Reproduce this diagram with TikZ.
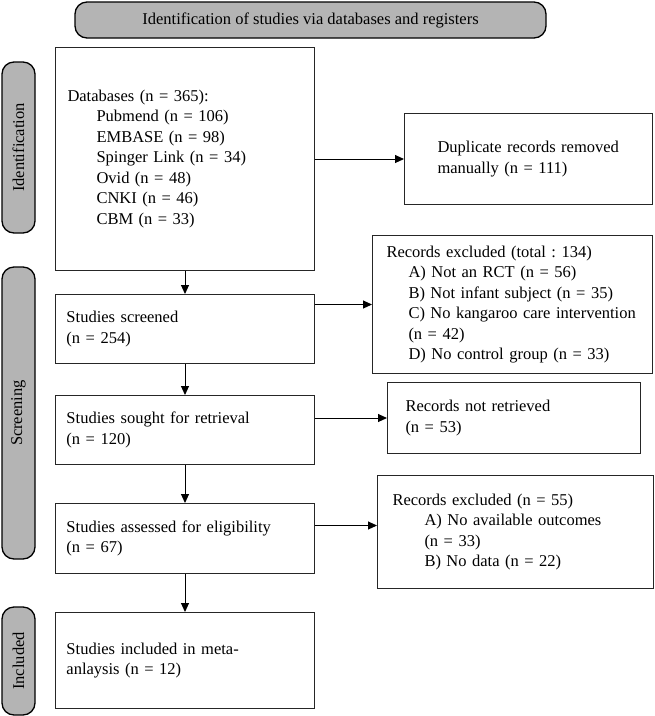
\documentclass[tikz,border=0pt]{standalone}
\usepackage{fontspec}
\setmainfont{Liberation Serif}
\usetikzlibrary{arrows.meta,positioning}
\definecolor{pillgray}{RGB}{180,180,180}
\frenchspacing
\begin{document}
\begin{tikzpicture}[x=1pt,y=-1pt,
  every node/.style={font=\fontsize{16.5}{20.5}\selectfont},
  box/.style={draw=black!85,line width=1pt,rectangle,anchor=north west,inner sep=0pt,align=left},
  pill/.style={draw=black,line width=1.3pt,fill=pillgray,rounded corners=12pt,inner sep=0pt,rotate=90,minimum height=33pt},
  arr/.style={draw=black,line width=1pt,-{Triangle[length=9pt,width=8pt]}}
]
\useasboundingbox (0,0) rectangle (655,716);
% banner
\node[draw=black,line width=1.3pt,fill=pillgray,rounded corners=12pt,minimum width=471pt,minimum height=36pt,inner sep=0pt] (banner) at (310.5,20) {Identification of studies via databases and registers};
% side pills
\node[pill,minimum width=171pt] (pid) at (18.5,147.5) {Identification};
\node[pill,minimum width=292pt] (psc) at (18.5,413) {Screening};
\node[pill,minimum width=108pt] (pin) at (18.5,661) {Included};
% left column
\node[box,minimum width=259pt,minimum height=223pt,text width=235pt] (db) at (55,47) {Databases (n = 365):\\
\hspace*{29pt}Pubmend (n = 106)\\
\hspace*{29pt}EMBASE (n = 98)\\
\hspace*{29pt}Spinger Link (n = 34)\\
\hspace*{29pt}Ovid (n = 48)\\
\hspace*{29pt}CNKI (n = 46)\\
\hspace*{29pt}CBM (n = 33)};
\node[box,minimum width=259pt,minimum height=69pt,text width=237pt] (scr) at (55,294) {Studies screened\\(n = 254)};
\node[box,minimum width=259pt,minimum height=69pt,text width=237pt] (sou) at (55,395) {Studies sought for retrieval\\(n = 120)};
\node[box,minimum width=259pt,minimum height=70pt,text width=237pt] (ass) at (55,503) {Studies assessed for eligibility\\(n = 67)};
\node[box,minimum width=259pt,minimum height=96pt,text width=237pt] (inc) at (55,612) {Studies included in meta-\\anlaysis (n = 12)};
% right column
\node[box,minimum width=248pt,minimum height=91pt,text width=182pt] (dup) at (404,113) {Duplicate records removed\\manually (n = 111)};
\node[box,minimum width=280pt,minimum height=138pt,text width=252pt] (ex1) at (372,235) {Records excluded (total : 134)\\
\hspace*{22pt}A) Not an RCT (n = 56)\\
\hspace*{22pt}B) Not infant subject (n = 35)\\
\hspace*{22pt}C) No kangaroo care intervention\\
\hspace*{22pt}(n = 42)\\
\hspace*{22pt}D) No control group (n = 33)};
\node[box,minimum width=253pt,minimum height=71pt,text width=217pt] (nr) at (387,382) {Records not retrieved\\(n = 53)};
\node[box,minimum width=276pt,minimum height=113pt,text width=246pt] (ex2) at (377,475) {Records excluded (n = 55)\\
\hspace*{32pt}A) No available outcomes\\
\hspace*{32pt}(n = 33)\\
\hspace*{32pt}B) No data (n = 22)};
% vertical arrows
\draw[arr] (db.south) -- (scr.north);
\draw[arr] (scr.south) -- (sou.north);
\draw[arr] (sou.south) -- (ass.north);
\draw[arr] (ass.south) -- (inc.north);
% horizontal arrows
\draw[arr] (db.east) -- (dup.west);
\draw[arr] (scr.east |- ex1.west) -- (ex1.west);
\draw[arr] (sou.east |- nr.west) -- (nr.west);
\coordinate (assout) at ([yshift=13pt]ass.east);
\draw[arr] (assout) -- (assout -| ex2.west);
\end{tikzpicture}
\end{document}
